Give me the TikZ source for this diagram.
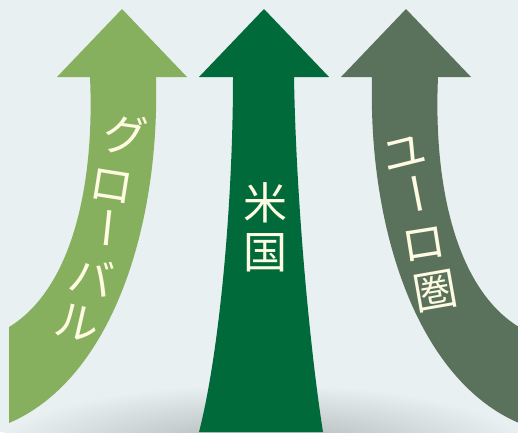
\documentclass[tikz,border=0pt]{standalone}
\usepackage{fontspec}
\newfontfamily\jpfont{Noto Sans CJK JP}
\definecolor{bgc}{RGB}{232,240,242}
\definecolor{leftc}{RGB}{135,176,94}
\definecolor{midc}{RGB}{0,106,59}
\definecolor{rightc}{RGB}{90,114,92}
\definecolor{txtc}{RGB}{255,251,226}
\definecolor{shadc}{RGB}{170,177,179}
\begin{document}
\begin{tikzpicture}[x=1pt,y=-1pt,
  lbl/.style={font=\jpfont\fontsize{44}{44}\selectfont, text=txtc, inner sep=0pt,
    text height=38.7pt, text depth=5.3pt, anchor=center},
  barlbl/.style={lbl, text height=24pt, text depth=-14pt}]
\useasboundingbox (0,0) rectangle (518,432);
\fill[bgc] (0,0) rectangle (518,432);
\begin{scope}
\clip (0,0) rectangle (518,432);
\shade[inner color=shadc, outer color=bgc] (262,450) ellipse [x radius=268, y radius=66];
% left arrow
\fill[leftc] (9,327) .. controls (70,290) and (95,190) .. (90,77) -- (57,77) -- (122,9)
  -- (187,77) -- (156,77) .. controls (160,230) and (110,380) .. (9,423) -- cycle;
% middle arrow
\fill[midc] (233,77) -- (199,77) -- (264,9) -- (329,77) -- (294,77)
  .. controls (296,200) and (310,350) .. (323,432) -- (199,432)
  .. controls (220,350) and (233,200) .. (233,77) -- cycle;
% right arrow
\fill[rightc] (519,327) .. controls (458,290) and (433,190) .. (438,77) -- (471,77) -- (406,9)
  -- (341,77) -- (372,77) .. controls (368,230) and (418,380) .. (519,423) -- cycle;
\end{scope}
% left labels
\node[lbl, rotate=-8]  (g1) at (126,135) {グ};
\node[lbl, rotate=-9]  (g2) at (112,184) {ロ};
\node[barlbl, rotate=-96] (g3) at (103,228) {\makebox[30pt]{ー}};
\node[lbl, rotate=-12] (g4) at (91,278) {バ};
\node[lbl, rotate=-13] (g5) at (78,322) {ル};
% middle labels
\node[lbl] (m1) at (265,203) {米};
\node[lbl] (m2) at (265,252) {国};
% right labels
\node[lbl, rotate=14] (e1) at (404,152) {ユ};
\node[barlbl, rotate=-79] (e2) at (412,195) {\makebox[30pt]{ー}};
\node[lbl, rotate=9]  (e3) at (424,243) {ロ};
\node[lbl, rotate=10] (e4) at (435,290) {圏};
\end{tikzpicture}
\end{document}
